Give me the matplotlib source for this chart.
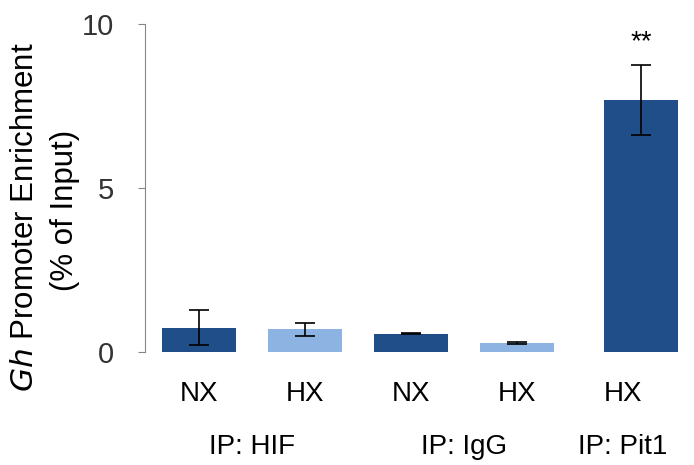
import matplotlib
matplotlib.use("Agg")
import matplotlib.pyplot as plt
import numpy as np

plt.rcParams['font.family'] = ['Liberation Sans', 'DejaVu Sans']

# values
conditions = ["NX", "HX", "NX", "HX", "HX"]
enrichment = [0.74, 0.69, 0.56, 0.28, 7.68]
errors = [0.53, 0.20, 0.02, 0.03, 1.07]
groups = ["IP: HIF", "IP: IgG", "IP: Pit1"]

dark = '#1f4e89'
light = '#8db3e2'
colors = [dark, light, dark, light, dark]

bar_x = np.array([0, 1, 2, 3, 4.17])
label_x = np.array([0, 1, 2, 3, 4.0])
group_x = [0.5, 2.5, 4.0]

fig = plt.figure(figsize=(6.94, 4.65), dpi=100)
ax = fig.add_axes([0.209, 0.243, 0.785, 0.705])

ax.bar(bar_x, enrichment, width=0.7, color=colors, zorder=2)
ax.errorbar(bar_x, enrichment, yerr=errors, fmt='none', ecolor='black',
            elinewidth=1.2, capsize=7, capthick=1.2, zorder=3)

ax.set_ylim(0, 10)
ax.set_xlim(-0.51, 4.63)
ax.set_yticks([0, 5, 10])
ax.tick_params(axis='y', labelsize=21, color='#888888', length=5,
               labelcolor='#333333', pad=17)
ax.set_xticks(label_x)
ax.set_xticklabels(conditions, fontsize=20)
ax.tick_params(axis='x', length=0, pad=21)

for s in ['top', 'right', 'bottom']:
    ax.spines[s].set_visible(False)
ax.spines['left'].set_color('#888888')

for gx, g in zip(group_x, groups):
    ax.text(gx, -2.9, g, ha='center', va='center', fontsize=20,
            transform=ax.transData, clip_on=False)

ax.text(bar_x[4], enrichment[4] + errors[4] + 0.3, "**", ha='center',
        va='bottom', fontsize=20)

# two-line y label, placed by hand to match the reference
fig.text(25 / 694, 1 - 217 / 465, r"$\it{Gh}$ Promoter Enrichment",
         rotation=90, ha='center', va='center', fontsize=22.5)
fig.text(65 / 694, 1 - 210 / 465, "(% of Input)",
         rotation=90, ha='center', va='center', fontsize=22.5)

fig.savefig("out.png", dpi=100)
